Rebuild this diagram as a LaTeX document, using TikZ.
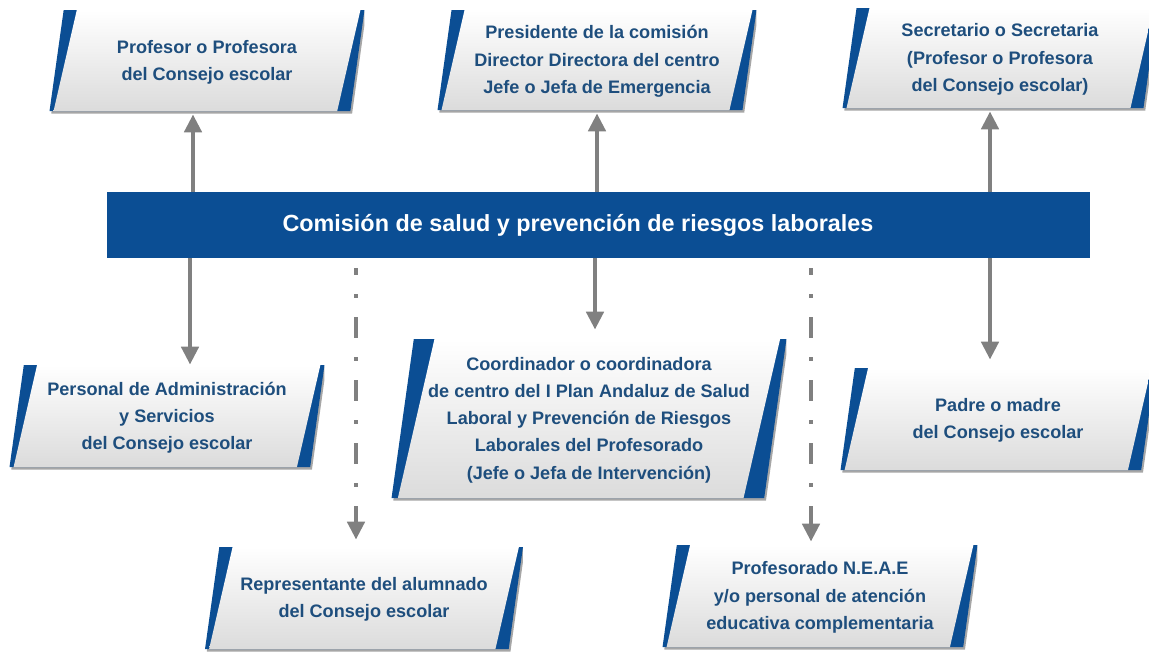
\documentclass[tikz,border=0pt]{standalone}
\usepackage{fontspec}
\setmainfont{Liberation Sans}
\usetikzlibrary{arrows.meta,calc}
\definecolor{comblue}{RGB}{11,78,148}
\definecolor{roletext}{RGB}{30,78,125}
\definecolor{linkgray}{RGB}{128,128,128}

\tikzset{
  rolebox/.style={rectangle, inner sep=0pt, align=center, text=roletext,
    font=\fontsize{10.3}{15.5}\selectfont\bfseries,
    path picture={
      % shadow under the slanted box
      \fill[black, opacity=0.35]
        let \p1=(path picture bounding box.north west),
            \p2=(path picture bounding box.south east),
            \n1={\y1-(\y2)-1.7pt}, \n2={\y2+1.7pt} in
        (\x1+0.14*\n1+1pt,\y1-1.2pt) -- (\x2+1pt,\y1-1.2pt)
        -- (\x2-0.14*\n1+1pt,\n2-1.5pt) -- (\x1+1pt,\n2-1.5pt) -- cycle;
      % blue edges
      \fill[comblue]
        let \p1=(path picture bounding box.north west),
            \p2=(path picture bounding box.south east),
            \n1={\y1-(\y2)-1.7pt}, \n2={\y2+1.7pt} in
        (\x1+0.14*\n1,\y1) -- (\x2,\y1) -- (\x2-0.14*\n1,\n2) -- (\x1,\n2) -- cycle;
      % grey face
      \shade[top color=white, bottom color=black!14]
        let \p1=(path picture bounding box.north west),
            \p2=(path picture bounding box.south east),
            \n1={\y1-(\y2)-1.7pt}, \n2={\y2+1.7pt} in
        (\x1+0.27*\n1,\y1) -- (\x2-0.04*\n1,\y1) -- (\x2-0.27*\n1,\n2) -- (\x1+0.04*\n1,\n2) -- cycle;
    }},
  banner/.style={rectangle, fill=comblue, inner sep=0pt, minimum width=19.66cm, minimum height=1.32cm},
  bannertext/.style={text=white, font=\fontsize{13.3}{16}\selectfont\bfseries, inner sep=0pt},
  link/.style={draw=linkgray, line width=0.09cm, -{Triangle[length=0.36cm, width=0.34cm]}},
  dashlink/.style={link, dash pattern=on 0.42cm off 0.38cm on 0.08cm off 0.38cm, dash phase=0.28cm, shorten <=0.2cm},
}

\begin{document}
\begin{tikzpicture}[x=0.02cm, y=-0.02cm]
    \useasboundingbox (0,0) rectangle (1149,652);

    % Banner
    \node[banner] (com) at (598.5,225) {};
    \node[bannertext] (comtxt) at (578,225) {Comisión de salud y prevención de riesgos laborales};

    % Upper row
    \node[rolebox, minimum width=6.3cm, minimum height=2.08cm] (prof) at (207,62) {Profesor o Profesora\\del Consejo escolar};
    \node[rolebox, minimum width=6.38cm, minimum height=2.06cm] (pres) at (597,61.5) {Presidente de la comisión\\Director Directora del centro\\Jefe o Jefa de Emergencia};
    \node[rolebox, minimum width=6.3cm, minimum height=2.06cm] (secr) at (1000,59.5) {Secretario o Secretaria\\(Profesor o Profesora\\del Consejo escolar)};

    % Middle row
    \node[rolebox, minimum width=6.3cm, minimum height=2.1cm] (pas) at (167,417.5) {Personal de Administración\\y Servicios\\del Consejo escolar};
    \node[rolebox, minimum width=7.9cm, minimum height=3.24cm] (coord) at (589,420) {Coordinador o coordinadora\\de centro del I Plan Andaluz de Salud\\Laboral y Prevención de Riesgos\\Laborales del Profesorado\\(Jefe o Jefa de Intervención)};
    \node[rolebox, minimum width=6.3cm, minimum height=2.1cm] (padre) at (998,420.5) {Padre o madre\\del Consejo escolar};

    % Lower row
    \node[rolebox, minimum width=6.36cm, minimum height=2.1cm] (alum) at (364,599.5) {Representante del alumnado\\del Consejo escolar};
    \node[rolebox, minimum width=6.3cm, minimum height=2.1cm] (neae) at (820,597.5) {Profesorado N.E.A.E\\y/o personal de atención\\educativa complementaria};

    % Links
    \draw[link] ($(prof.south |- com.north)+(-14,0)$) -- ($(prof.south)+(-14,0)$);
    \draw[link] (pres.south |- com.north) -- (pres.south);
    \draw[link] ($(secr.south |- com.north)+(-10,0)$) -- ($(secr.south)+(-10,0)$);
    \draw[link] ($(pas.north |- com.south)+(23,0)$) -- ($(pas.north)+(23,0)$);
    \draw[link, shorten >=0.18cm] ($(coord.north |- com.south)+(6,0)$) -- ($(coord.north)+(6,0)$);
    \draw[link, shorten >=0.16cm] ($(padre.north |- com.south)+(-8,0)$) -- ($(padre.north)+(-8,0)$);
    \draw[dashlink, shorten >=0.14cm] ($(alum.north |- com.south)+(-8,0)$) -- ($(alum.north)+(-8,0)$);
    \draw[dashlink, shorten >=0.06cm] ($(neae.north |- com.south)+(-9,0)$) -- ($(neae.north)+(-9,0)$);
\end{tikzpicture}
\end{document}
